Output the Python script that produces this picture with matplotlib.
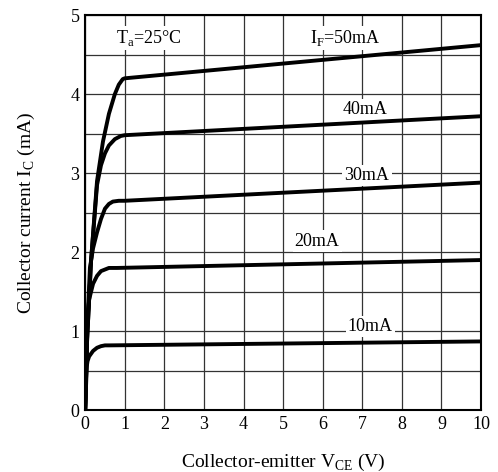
import matplotlib
matplotlib.use("Agg")
import matplotlib.pyplot as plt

plt.rcParams['font.family'] = ['Liberation Serif', 'DejaVu Serif']
plt.rcParams['mathtext.fontset'] = 'custom'
plt.rcParams['mathtext.rm'] = 'Liberation Serif'

# Data: (V_CE, I_C) per forward current
v50 = [0, 0.05, 0.15, 0.3, 0.45, 0.6, 0.75, 0.85, 0.95, 1.0, 10]
i50 = [0, 0.9, 1.9, 2.9, 3.4, 3.75, 4.0, 4.12, 4.19, 4.2, 4.62]
v40 = [0, 0.05, 0.15, 0.3, 0.4, 0.5, 0.6, 0.75, 0.9, 1.0, 10]
i40 = [0, 0.9, 1.9, 2.85, 3.1, 3.25, 3.35, 3.43, 3.47, 3.48, 3.72]
v30 = [0, 0.05, 0.12, 0.2, 0.3, 0.4, 0.5, 0.6, 0.7, 0.85, 1.0, 10]
i30 = [0, 1.0, 1.8, 2.05, 2.25, 2.42, 2.55, 2.61, 2.64, 2.65, 2.65, 2.88]
v20 = [0, 0.05, 0.1, 0.2, 0.3, 0.4, 0.5, 0.6, 0.8, 10]
i20 = [0, 1.1, 1.4, 1.6, 1.7, 1.76, 1.78, 1.8, 1.8, 1.9]
v10 = [0, 0.04, 0.06, 0.1, 0.2, 0.3, 0.4, 0.5, 0.6, 10]
i10 = [0, 0.55, 0.62, 0.68, 0.75, 0.79, 0.81, 0.82, 0.82, 0.87]

curves = [(v10, i10), (v20, i20), (v30, i30), (v40, i40), (v50, i50)]
labels = ["10mA", "20mA", "30mA", "40mA", r"I$_\mathregular{F}$=50mA"]
label_pos = [(7.2, 1.06), (5.86, 2.14), (7.12, 2.97), (7.07, 3.8), (6.57, 4.71)]

xticks = list(range(0, 11))
yticks = [0, 1, 2, 3, 4, 5]

fig = plt.figure(figsize=(4.98, 4.72), dpi=100)
ax = fig.add_axes([0.171, 0.131, 0.795, 0.837])

for v, i in curves:
    ax.plot(v, i, color='black', lw=2.8, solid_capstyle='butt', zorder=3)

ax.set_xlim(0, 10)
ax.set_ylim(0, 5)
ax.set_xticks(xticks)
ax.set_yticks(yticks)
ax.set_yticks([0.5, 1.5, 2.5, 3.5, 4.5], minor=True)
ax.grid(True, which='both', color='#333333', lw=0.9, zorder=1)
ax.tick_params(which='both', length=0, labelsize=13, pad=4)
for s in ax.spines.values():
    s.set_linewidth(1.5)
    s.set_zorder(4)

for txt, (x, y) in zip(labels, label_pos):
    ax.text(x, y, txt, ha='center', va='center', fontsize=13, zorder=2,
            bbox=dict(facecolor='white', edgecolor='none', pad=1.5))

ax.text(1.6, 4.71, r"T$_\mathregular{a}$=25°C", ha='center', va='center',
        fontsize=13, zorder=2,
        bbox=dict(facecolor='white', edgecolor='none', pad=1.5))

ax.set_xlabel(r"Collector-emitter V$_\mathregular{CE}$ (V)", fontsize=14, labelpad=14)
ax.set_ylabel(r"Collector current I$_\mathregular{C}$ (mA)", fontsize=14, labelpad=24)

fig.savefig("out.png", dpi=100)
